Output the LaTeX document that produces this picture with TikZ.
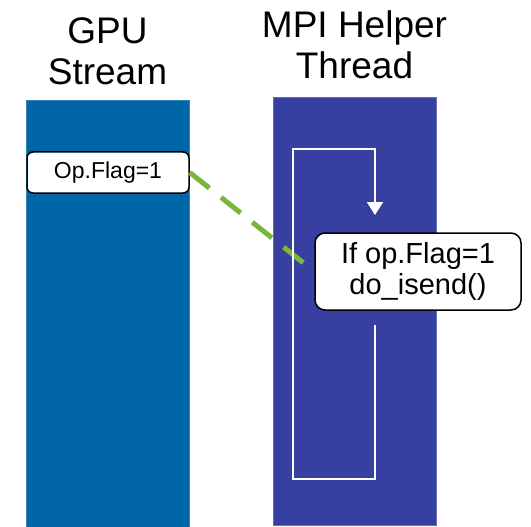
\documentclass[tikz,border=0pt]{standalone}
\usepackage{fontspec}
\setmainfont{Liberation Sans}
\usepackage{tikz}
\usetikzlibrary{arrows.meta,positioning}
\definecolor{streamblue}{RGB}{0,102,168}
\definecolor{threadblue}{RGB}{55,64,161}
\definecolor{threadedge}{RGB}{102,110,181}
\definecolor{flaggreen}{RGB}{122,181,60}
\tikzset{
  column/.style={rectangle, draw=#1!80!white, line width=1pt, fill=#1,
                 minimum width=163pt, inner sep=0pt},
  title/.style={align=center, inner sep=0pt, font=\fontsize{37}{41}\selectfont},
  flagbox/.style={rectangle, draw=black, line width=1.5pt, fill=white,
                  rounded corners=#1, align=center, inner sep=0pt},
  flagline/.style={draw=flaggreen, line width=5pt, dash pattern=on 25pt off 15pt},
  loopline/.style={draw=white, line width=2pt, -{Triangle[length=13pt,width=16pt]}},
}
\begin{document}
\begin{tikzpicture}[x=1pt,y=-1pt]
  \useasboundingbox (0,0) rectangle (531,527);
  % the two lanes
  \node[column=streamblue, minimum height=427pt, anchor=north] (gpu) at (107.5,100) {};
  \node[column=threadblue, minimum height=428pt, anchor=north, draw=threadedge] (mpi) at (354.5,97) {};
  \node[title, above=15pt of gpu] (gputitle) {GPU\\Stream};
  \node[title, above=18pt of mpi] (mpititle) {MPI Helper\\Thread};
  % flag set in the stream, polled by the helper
  \node[flagbox=6pt, minimum width=162pt, minimum height=41pt,
        font=\fontsize{23}{26}\selectfont] (op) at (108,172.5) {Op.Flag=1};
  \node[flagbox=10pt, minimum width=206pt, minimum height=77pt,
        font=\fontsize{29}{31}\selectfont] (ifbox) at (418,271.5) {If op.Flag=1\\do\_isend()};
  \draw[flagline, shorten >=12pt] (op.east) -- (ifbox.west);
  % polling loop
  \coordinate (loopout) at (375,325);
  \coordinate (loopin) at (375,215);
  \draw[loopline] (loopout) -- (375,479) -- (293,479) -- (293,149) -- (375,149) -- (loopin);
\end{tikzpicture}
\end{document}
